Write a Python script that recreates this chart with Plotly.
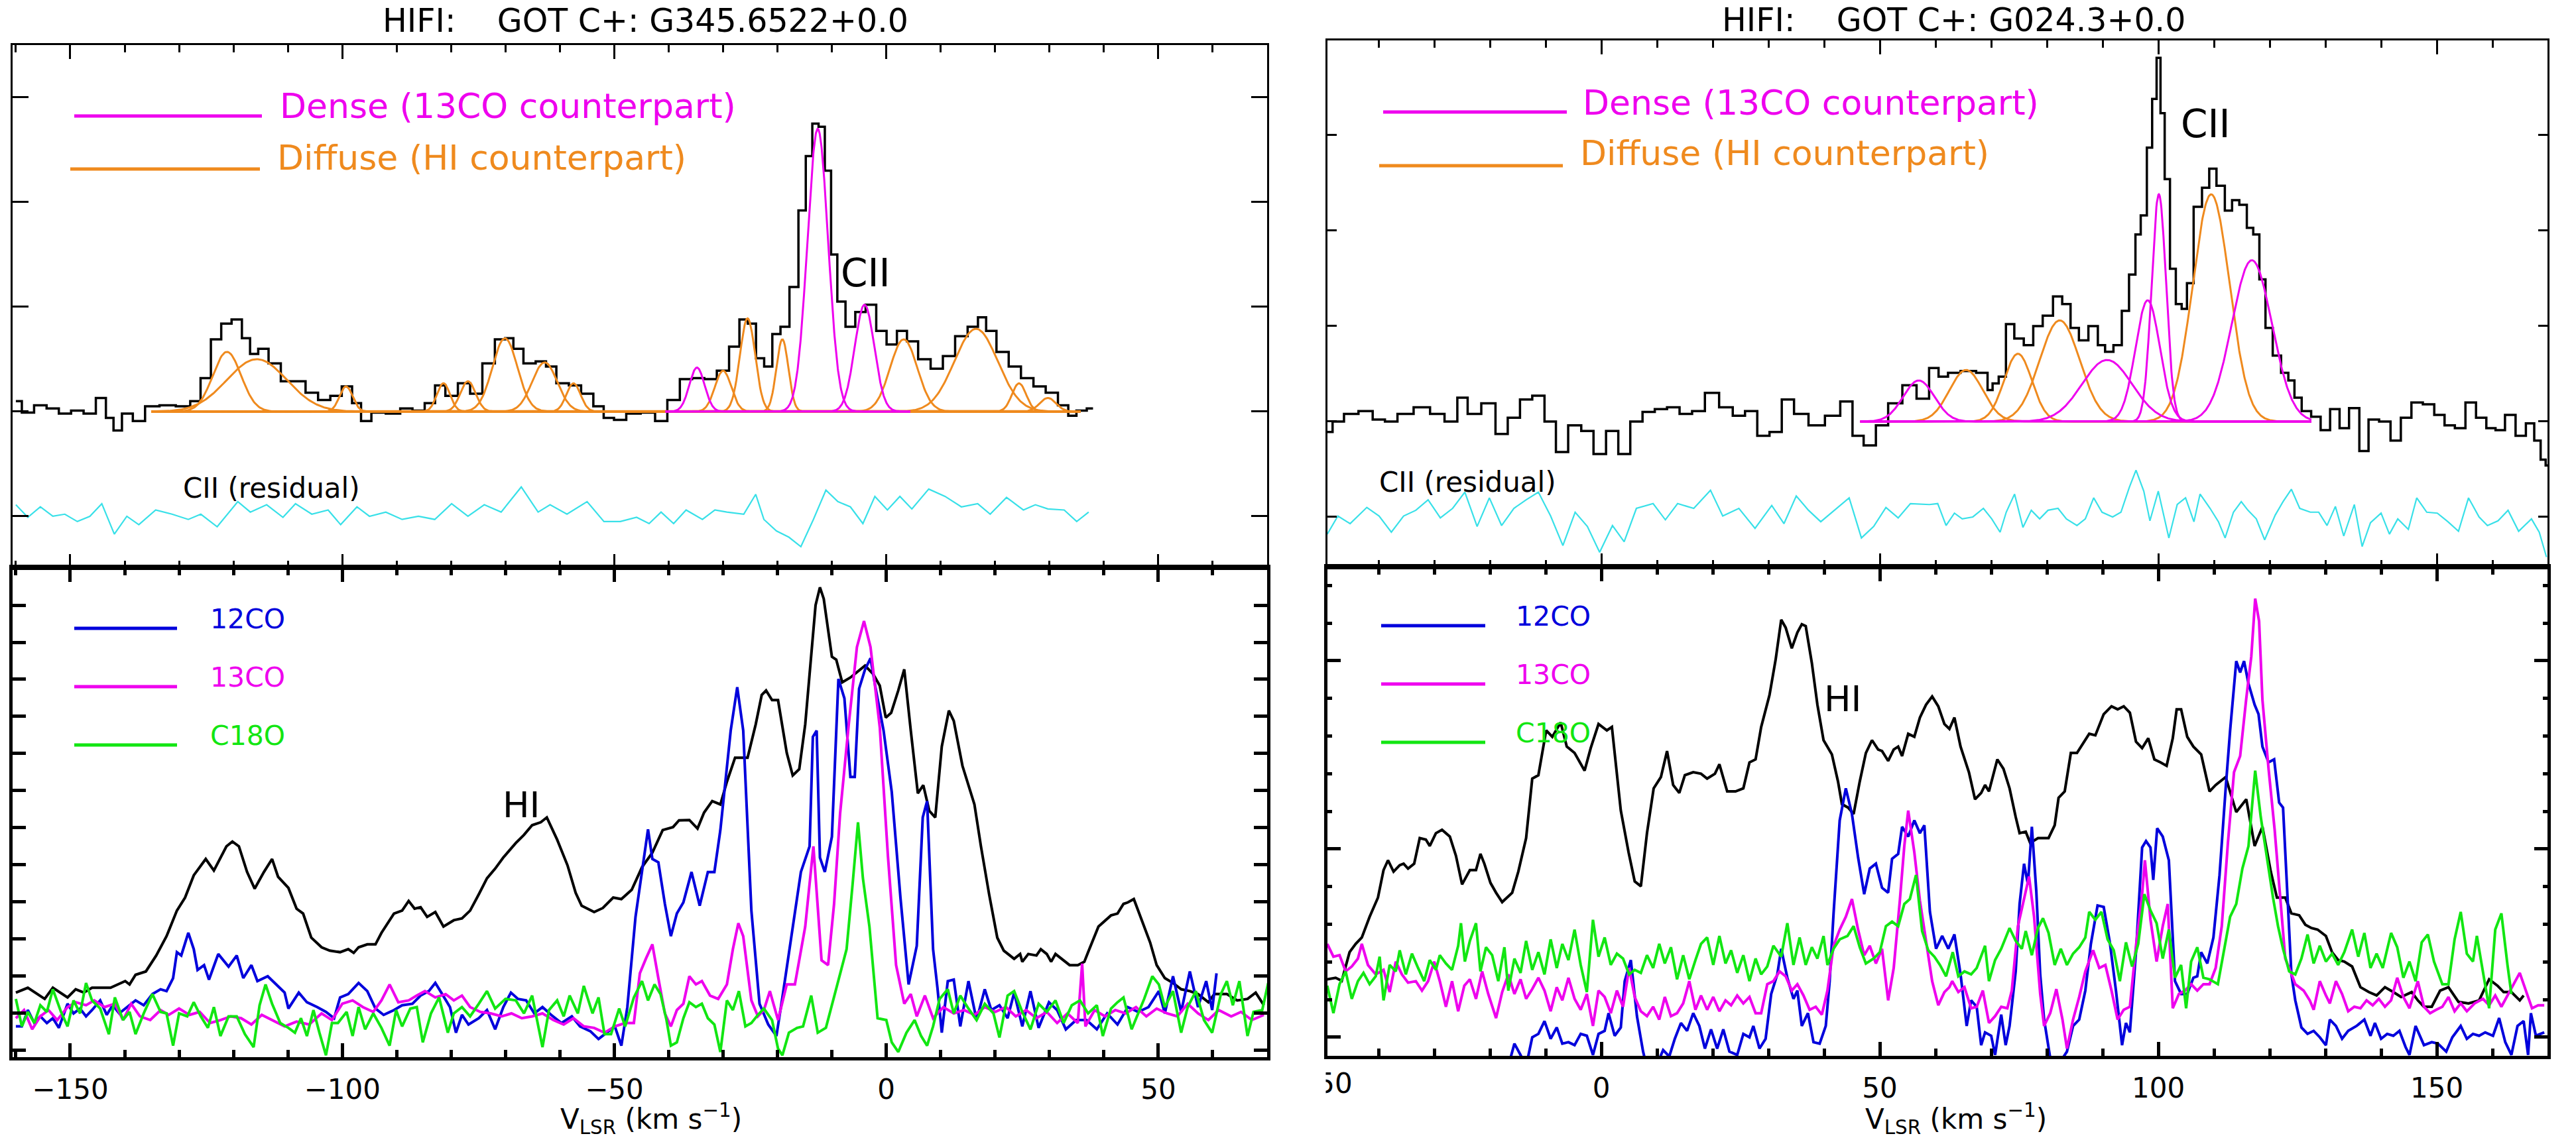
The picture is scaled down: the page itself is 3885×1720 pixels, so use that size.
import numpy as np
import plotly.graph_objects as go

W, H = 3885, 1720
def px(x): return x / W
def py(y): return 1 - y / H

# ---------------- DATA (velocity km/s, intensity in tick units) ----------------
# Left column: G345.6522+0.0
CII_L = [(-160.0,0.10),(-157.8,-0.01),(-155.5,0.06),(-153.2,0.03),(-151.0,-0.02),(-148.7,0.01),(-146.4,-0.02),(-144.2,0.13),(-142.7,-0.06),(-141.4,-0.18),(-139.6,-0.02),(-137.4,-0.09),(-135.1,0.05),(-132.1,0.06),(-129.1,0.05),(-126.8,0.10),(-125.3,0.32),(-123.0,0.69),(-121.5,0.84),(-119.2,0.88),(-117.7,0.70),(-116.2,0.55),(-114.7,0.60),(-112.4,0.46),(-110.2,0.29),(-107.9,0.29),(-105.6,0.18),(-103.3,0.11),(-101.1,0.15),(-99.1,0.24),(-97.3,0.08),(-95.8,-0.09),(-93.5,-0.01),(-90.5,-0.02),(-88.2,0.03),(-86.0,0.01),(-83.7,0.08),(-82.2,0.25),(-79.9,0.15),(-77.6,0.27),(-75.4,0.17),(-73.1,0.46),(-70.8,0.69),(-69.3,0.70),(-67.8,0.60),(-65.6,0.46),(-63.3,0.48),(-61.8,0.43),(-59.5,0.27),(-57.2,0.25),(-55.0,0.17),(-52.7,0.05),(-51.2,-0.06),(-48.9,-0.08),(-46.7,-0.02),(-43.6,-0.01),(-41.4,-0.09),(-39.1,0.11),(-36.8,0.31),(-34.6,0.32),(-32.3,0.31),(-30.0,0.39),(-27.8,0.62),(-26.2,0.88),(-24.7,0.84),(-23.2,0.51),(-21.7,0.43),(-20.2,0.74),(-18.7,0.81),(-16.9,1.19),(-15.4,1.92),(-14.2,2.44),(-13.0,2.75),(-11.9,2.72),(-10.7,2.30),(-9.6,1.50),(-8.4,1.05),(-6.6,0.81),(-4.8,0.95),(-2.8,1.02),(-0.9,0.77),(1.0,0.64),(2.9,0.77),(4.7,0.67),(7.0,0.50),(9.3,0.41),(11.5,0.53),(13.8,0.72),(16.1,0.81),(17.6,0.90),(19.1,0.77),(21.4,0.57),(23.6,0.43),(25.9,0.32),(28.2,0.24),(30.4,0.18),(32.7,0.06),(34.2,-0.04),(35.7,0.01),(38.0,0.03)]

RES_L = [(-160.0,-0.89),(-157.8,-1.01),(-155.5,-0.91),(-153.2,-1.00),(-151.0,-0.98),(-148.7,-1.05),(-146.4,-1.00),(-144.2,-0.88),(-141.9,-1.17),(-139.6,-1.00),(-137.4,-1.08),(-134.3,-0.94),(-131.3,-0.98),(-128.3,-1.03),(-126.0,-0.98),(-123.0,-1.10),(-119.2,-0.86),(-116.9,-0.96),(-113.9,-0.89),(-110.9,-1.01),(-108.6,-0.88),(-105.6,-0.98),(-102.6,-0.94),(-100.3,-1.08),(-97.3,-0.91),(-95.0,-1.00),(-92.0,-0.96),(-89.0,-1.03),(-86.0,-1.00),(-83.0,-1.03),(-79.9,-0.88),(-76.9,-1.00),(-73.9,-0.89),(-70.8,-0.96),(-67.1,-0.72),(-64.0,-0.96),(-61.8,-0.89),(-58.7,-0.98),(-55.0,-0.86),(-51.9,-1.05),(-48.9,-1.05),(-45.9,-1.01),(-43.6,-1.07),(-41.4,-0.96),(-39.1,-1.07),(-36.8,-0.94),(-33.8,-1.03),(-31.5,-0.94),(-29.3,-0.96),(-26.2,-0.98),(-24.0,-0.79),(-22.5,-1.03),(-20.2,-1.14),(-17.9,-1.20),(-15.7,-1.29),(-13.4,-1.03),(-11.1,-0.75),(-8.9,-0.86),(-6.6,-0.91),(-4.3,-1.07),(-2.1,-0.81),(0.2,-0.94),(2.5,-0.81),(4.7,-0.93),(7.8,-0.74),(10.8,-0.81),(13.8,-0.91),(16.8,-0.88),(19.1,-0.98),(22.1,-0.82),(25.2,-0.94),(27.4,-0.89),(29.7,-0.93),(32.7,-0.94),(35.0,-1.05),(37.2,-0.96)]

# Gaussian fit components: (centre, peak, sigma)
DIFFUSE_L = [(-121.2,0.57,2.6),(-115.7,0.50,5.5),(-99.3,0.24,1.2),(-81.4,0.27,1.2),(-76.9,0.29,1.4),(-70.1,0.70,2.3),(-62.8,0.47,2.3),(-57.5,0.27,1.3),(-30.0,0.39,1.5),(-25.5,0.89,1.4),(-19.1,0.69,1.1),(3.2,0.69,2.5),(16.5,0.79,4.0),(24.4,0.27,1.3),(29.7,0.13,1.5)]
DENSE_L = [(-34.8,0.42,1.4),(-12.6,2.70,1.9),(-4.0,1.02,1.8)]
DIFFUSE_L_RANGE = (-135.1, 35.7)
DENSE_L_RANGE = (-40.6, 4.4)

HI_L = [(-160.0,1.56),(-157.8,1.69),(-154.7,1.39),(-153.2,1.69),(-150.5,1.43),(-149.0,1.65),(-147.5,1.56),(-146.0,1.69),(-142.6,1.69),(-139.9,1.87),(-139.1,1.78),(-138.0,2.04),(-136.1,2.13),(-134.2,2.56),(-132.3,3.08),(-130.4,3.77),(-128.9,4.12),(-127.3,4.72),(-125.1,5.16),(-123.6,4.85),(-121.3,5.50),(-120.2,5.63),(-119.0,5.50),(-117.5,4.81),(-116.1,4.36),(-114.4,4.81),(-112.9,5.16),(-111.8,4.68),(-109.9,4.38),(-108.4,3.82),(-107.2,3.69),(-105.7,3.04),(-103.8,2.78),(-102.3,2.69),(-100.4,2.65),(-98.9,2.73),(-97.9,2.63),(-97.0,2.78),(-95.4,2.86),(-93.9,2.86),(-92.8,3.17),(-90.5,3.69),(-89.0,3.77),(-87.8,4.03),(-86.7,3.82),(-85.6,3.86),(-84.4,3.60),(-82.9,3.73),(-81.4,3.34),(-79.5,3.51),(-78.0,3.56),(-76.5,3.77),(-74.9,4.21),(-73.4,4.64),(-71.9,4.90),(-70.4,5.20),(-68.1,5.59),(-66.6,5.81),(-65.1,6.07),(-63.5,6.15),(-62.4,6.28),(-60.5,5.68),(-58.6,4.99),(-57.1,4.25),(-56.0,3.90),(-53.7,3.73),(-52.1,3.84),(-50.2,4.12),(-48.7,4.08),(-46.8,4.33),(-44.9,4.94),(-43.0,5.33),(-41.1,5.94),(-39.2,6.02),(-38.1,6.20),(-36.2,6.21),(-34.7,5.98),(-33.5,6.41),(-32.0,6.72),(-30.5,6.63),(-29.3,7.24),(-27.8,7.89),(-25.5,7.89),(-24.0,8.79),(-22.9,9.58),(-22.1,9.70),(-21.0,9.44),(-19.9,9.44),(-18.3,8.02),(-17.2,7.41),(-16.0,7.58),(-14.9,8.79),(-13.0,12.0),(-12.2,12.48),(-11.5,12.17),(-10.0,10.61),(-9.2,10.53),(-8.1,9.92),(-6.6,10.05),(-5.0,10.23),(-3.9,10.37),(-2.4,10.14),(-1.2,9.83),(-0.1,8.97),(0.9,9.10),(2.2,9.70),(3.3,10.27),(4.5,8.62),(5.8,6.93),(6.8,7.15),(7.9,6.46),(9.0,6.28),(10.2,8.19),(11.5,9.16),(12.4,8.88),(14.0,7.67),(15.1,7.15),(16.2,6.63),(17.4,5.50),(18.9,4.21),(20.4,3.04),(21.6,2.69),(23.5,2.47),(24.6,2.60),(25.0,2.39),(26.1,2.60),(27.6,2.56),(28.4,2.73),(29.5,2.60),(30.3,2.39),(31.1,2.60),(32.2,2.47),(33.7,2.30),(35.2,2.30),(36.4,2.39),(37.1,2.65),(39.0,3.34),(41.3,3.64),(42.5,3.69),(43.6,3.95),(44.4,3.99),(45.5,4.08),(47.0,3.51),(48.5,2.91),(49.7,2.30),(51.2,1.95),(52.7,1.82),(54.2,1.65),(55.8,1.60),(57.3,1.52),(59.2,1.30),(60.3,1.52),(62.6,1.52),(64.5,1.35),(66.4,1.39),(67.9,1.56),(69.4,1.22)]

CO12_L = [(-160.0,0.65),(-158.9,0.65),(-157.8,1.09),(-156.6,0.74),(-155.5,0.92),(-154.3,0.74),(-153.2,0.87),(-152.1,0.61),(-150.5,1.26),(-149.4,1.00),(-148.2,1.13),(-147.1,0.92),(-146.0,1.09),(-144.5,1.35),(-143.3,0.96),(-142.2,1.22),(-141.0,1.00),(-139.5,1.17),(-138.0,1.35),(-136.5,1.22),(-134.9,1.52),(-133.4,1.65),(-132.3,1.60),(-131.1,1.95),(-130.4,2.65),(-129.6,2.56),(-128.3,3.17),(-127.3,2.73),(-126.6,2.17),(-125.4,2.30),(-124.5,1.91),(-122.8,2.60),(-120.9,2.26),(-119.4,2.56),(-118.2,1.95),(-116.7,2.30),(-115.6,1.87),(-113.7,2.00),(-112.2,1.78),(-110.6,1.56),(-109.9,1.13),(-108.0,1.56),(-106.5,1.30),(-104.6,1.17),(-103.0,1.04),(-101.5,0.87),(-100.4,1.43),(-98.9,1.52),(-97.0,1.82),(-95.4,1.60),(-93.9,1.13),(-92.4,0.96),(-90.5,1.09),(-89.0,1.22),(-87.1,1.26),(-85.6,1.48),(-84.1,1.60),(-82.9,1.82),(-81.8,1.56),(-80.2,1.17),(-79.1,0.48),(-78.0,0.96),(-76.8,0.70),(-74.9,0.87),(-73.4,1.09),(-71.9,0.57),(-70.4,1.17),(-69.0,1.56),(-67.7,1.39),(-66.2,1.35),(-64.7,1.00),(-63.2,1.17),(-61.6,0.96),(-59.7,0.74),(-57.8,0.92),(-56.3,0.65),(-54.4,0.52),(-52.9,0.31),(-51.4,0.48),(-49.9,0.65),(-48.7,0.13),(-47.6,1.17),(-46.1,3.60),(-44.9,4.90),(-43.8,5.96),(-43.0,5.16),(-41.9,5.07),(-40.7,3.95),(-39.6,3.08),(-38.5,3.69),(-37.3,3.99),(-35.8,4.81),(-34.3,3.90),(-32.8,4.81),(-31.6,4.81),(-30.5,5.94),(-28.6,8.62),(-27.4,9.79),(-26.3,8.62),(-24.8,3.77),(-23.3,1.26),(-21.7,0.70),(-20.2,0.39),(-19.1,1.43),(-17.6,2.91),(-15.7,4.81),(-14.1,5.50),(-13.5,8.45),(-12.8,8.62),(-12.2,5.20),(-11.3,4.81),(-10.0,5.76),(-8.8,10.01),(-7.7,9.49),(-6.6,7.37),(-5.8,7.37),(-5.0,9.75),(-3.9,10.27),(-2.9,10.57),(-2.0,9.79),(-0.5,8.62),(1.0,6.97),(2.6,4.12),(4.1,1.78),(5.6,2.82),(6.7,6.28),(7.5,6.72),(8.6,2.73),(9.4,1.69),(10.2,0.48),(11.3,1.87),(12.4,1.91),(13.6,0.65),(15.1,1.87),(16.6,0.82),(18.1,1.65),(19.3,1.09),(20.8,1.22),(22.3,0.87),(23.5,1.56),(25.0,0.65),(26.5,1.60),(28.0,0.61),(29.9,1.30),(31.4,1.09),(33.0,0.57),(34.9,0.82),(36.8,0.82),(38.7,0.57),(40.6,1.00),(42.5,0.70),(44.4,1.17),(46.3,1.04),(48.2,1.17),(50.1,1.60),(51.2,1.00),(52.7,2.00),(54.2,1.04),(55.8,2.13),(57.3,1.17),(58.8,1.87),(59.9,1.09),(60.7,2.08)]

CO13_L = [(-160.0,0.87),(-158.5,1.09),(-157.0,0.57),(-155.5,0.92),(-154.0,1.09),(-152.4,0.82),(-150.5,1.17),(-149.0,1.30),(-147.1,1.22),(-145.6,1.35),(-143.7,1.17),(-141.8,1.26),(-140.3,0.82),(-138.8,1.26),(-137.2,0.92),(-135.3,0.82),(-133.4,1.09),(-131.9,0.96),(-130.0,1.13),(-128.1,0.96),(-126.2,1.04),(-124.3,0.74),(-122.4,0.82),(-120.5,0.92),(-118.6,0.87),(-116.7,0.70),(-114.8,0.96),(-112.9,0.82),(-110.6,0.65),(-108.4,0.78),(-106.1,0.70),(-103.8,1.00),(-101.9,0.82),(-100.0,1.26),(-98.1,1.35),(-96.2,1.17),(-94.3,1.04),(-92.8,1.35),(-91.3,1.78),(-89.7,1.30),(-87.8,1.35),(-86.3,1.48),(-84.8,1.60),(-82.9,1.43),(-81.0,1.52),(-79.5,1.35),(-78.0,1.48),(-76.5,1.17),(-74.6,1.04),(-72.7,1.00),(-70.7,0.92),(-68.9,1.00),(-67.0,0.87),(-65.1,0.92),(-63.2,1.00),(-61.2,0.82),(-59.3,0.70),(-57.5,0.87),(-55.6,0.65),(-53.7,0.61),(-51.8,0.48),(-49.9,0.65),(-48.0,0.74),(-46.4,0.74),(-45.3,2.08),(-44.2,2.47),(-43.0,2.86),(-41.9,1.95),(-40.7,1.00),(-39.6,0.65),(-38.5,1.09),(-37.3,1.26),(-36.2,2.00),(-35.0,1.78),(-33.9,1.87),(-32.4,1.48),(-30.9,1.39),(-29.3,1.78),(-28.2,2.73),(-27.2,3.43),(-26.3,3.08),(-24.8,1.35),(-23.6,0.92),(-22.5,1.09),(-21.4,1.60),(-19.9,0.82),(-18.3,1.78),(-16.8,1.78),(-14.9,3.34),(-13.4,5.50),(-11.9,2.43),(-10.7,2.30),(-9.6,3.95),(-8.5,6.37),(-6.9,8.79),(-5.4,10.87),(-4.1,11.57),(-2.9,10.87),(-1.2,8.71),(0.3,5.24),(1.8,2.30),(3.3,1.26),(4.5,1.52),(5.6,0.92),(7.1,1.48),(8.6,0.87),(10.5,1.17),(12.4,1.00),(14.3,1.09),(16.2,0.96),(18.1,1.17),(20.0,1.04),(22.0,1.17),(23.8,0.92),(25.7,1.09),(27.6,0.87),(29.5,1.04),(31.4,0.74),(33.3,1.00),(35.2,0.74),(36.0,2.34),(36.6,0.65),(38.3,1.09),(40.2,0.92),(42.1,1.09),(44.0,1.00),(45.9,1.17),(47.8,0.92),(49.7,1.13),(51.6,1.00),(53.5,0.92),(55.4,1.26),(57.3,1.00),(59.2,0.82),(61.1,1.09),(63.4,0.92),(65.2,1.04),(67.2,0.82),(69.4,0.96)]

C18O_L = [(-160.0,1.39),(-158.9,0.65),(-157.8,1.04),(-156.6,0.74),(-155.5,1.22),(-154.3,1.04),(-153.2,1.65),(-151.7,1.04),(-150.5,0.65),(-149.4,1.35),(-148.2,1.00),(-147.1,1.82),(-146.0,1.35),(-144.5,1.13),(-142.9,0.44),(-141.8,1.43),(-140.3,0.82),(-139.1,1.04),(-138.0,0.44),(-136.5,1.00),(-134.9,1.52),(-133.4,1.04),(-132.3,1.00),(-131.1,0.13),(-130.0,1.00),(-128.5,0.92),(-127.3,1.30),(-126.0,0.92),(-124.7,0.61),(-123.6,1.17),(-122.4,0.39),(-120.9,0.92),(-119.4,0.92),(-117.9,0.44),(-116.3,0.09),(-115.2,1.22),(-114.1,1.78),(-112.9,1.26),(-111.4,0.74),(-109.9,0.61),(-108.7,0.48),(-107.6,0.87),(-106.5,0.39),(-105.3,1.09),(-104.2,0.48),(-103.0,-0.13),(-101.9,0.74),(-100.8,0.74),(-99.2,1.04),(-98.1,0.39),(-97.0,1.17),(-95.8,0.57),(-94.3,1.00),(-92.8,0.61),(-91.3,0.13),(-90.1,1.09),(-89.0,0.65),(-87.5,1.13),(-86.3,1.17),(-85.2,0.22),(-83.7,1.00),(-82.2,1.43),(-80.6,0.48),(-79.5,1.00),(-78.0,1.17),(-76.5,0.92),(-74.9,1.26),(-73.4,1.60),(-71.9,1.13),(-70.0,1.39),(-68.1,1.35),(-66.6,1.00),(-65.1,1.48),(-63.2,0.09),(-62.0,1.09),(-60.5,1.35),(-59.3,0.92),(-58.2,1.48),(-56.7,1.00),(-55.6,1.74),(-54.0,1.00),(-52.9,1.43),(-51.8,0.44),(-50.6,0.44),(-49.1,1.13),(-48.0,0.65),(-46.4,1.43),(-44.9,1.87),(-43.8,1.35),(-42.6,1.78),(-41.5,1.52),(-40.4,0.82),(-39.6,0.13),(-38.5,0.22),(-37.3,0.87),(-36.2,1.30),(-35.0,1.17),(-33.9,1.26),(-32.8,0.87),(-31.6,0.70),(-30.5,-0.04),(-29.3,1.35),(-28.2,1.09),(-27.1,1.60),(-25.9,0.65),(-24.8,0.74),(-23.6,0.96),(-22.5,1.13),(-21.0,0.82),(-19.9,0.05),(-19.1,-0.13),(-17.9,0.48),(-16.4,0.61),(-15.3,0.65),(-13.8,1.48),(-12.6,0.48),(-11.1,0.61),(-9.6,1.43),(-8.5,2.04),(-7.3,2.73),(-6.2,4.47),(-5.2,6.15),(-4.3,4.64),(-3.1,3.34),(-1.6,0.87),(0.0,0.82),(1.0,0.22),(2.2,-0.04),(3.7,0.48),(5.2,0.82),(6.4,0.39),(7.5,0.13),(8.6,0.65),(9.8,1.39),(11.3,1.65),(12.4,1.00),(13.6,1.48),(15.1,1.13),(16.6,0.82),(18.1,1.26),(19.7,1.00),(20.8,0.35),(22.3,1.48),(23.5,1.60),(25.0,1.04),(26.5,0.57),(28.0,1.26),(29.5,1.04),(31.1,1.35),(32.6,0.74),(34.1,1.22),(35.6,1.35),(37.1,1.00),(38.7,1.22),(39.8,0.39),(41.3,1.13),(42.5,1.30),(43.6,1.43),(45.1,0.57),(46.3,1.00),(47.4,1.39),(48.9,2.00),(50.1,1.78),(51.2,1.17),(52.7,1.60),(54.2,0.48),(55.4,1.17),(56.9,1.60),(58.4,0.82),(59.9,0.48),(61.5,1.52),(62.6,1.87),(63.7,1.22),(64.9,1.87),(66.4,0.39),(67.5,1.04),(69.1,1.09),(70.2,1.82)]

# Right column: G024.3+0.0
CII_R = [(-49.2,-0.11),(-47.3,0.0),(-45.1,0.08),(-42.1,0.11),(-40.0,0.02),(-37.7,0.0),(-35.5,0.08),(-31.9,0.15),(-29.6,0.08),(-26.7,0.0),(-25.0,0.25),(-23.0,0.08),(-20.1,0.19),(-17.9,-0.13),(-15.7,0.04),(-13.5,0.23),(-11.3,0.27),(-9.1,0.0),(-7.2,-0.32),(-4.7,-0.04),(-2.5,-0.10),(-0.3,-0.34),(2.0,-0.10),(4.1,-0.34),(6.3,0.0),(8.5,0.10),(10.7,0.13),(12.9,0.15),(15.2,0.08),(17.4,0.11),(19.8,0.30),(22.5,0.15),(24.7,0.06),(26.9,0.11),(29.1,-0.15),(31.3,-0.11),(33.5,0.23),(35.7,0.08),(38.7,-0.04),(41.6,0.06),(44.2,0.21),(46.0,-0.15),(48.2,-0.25),(50.4,-0.04),(52.6,0.19),(55.5,0.38),(57.7,0.24),(60.0,0.56),(61.1,0.47),(63.4,0.51),(65.6,0.53),(69.0,0.51),(69.7,0.33),(70.8,0.40),(71.9,0.47),(73.4,1.02),(74.9,0.87),(76.8,0.80),(78.3,1.00),(80.2,1.11),(82.0,1.31),(83.5,1.23),(85.0,0.98),(86.5,0.85),(88.4,1.00),(89.9,0.80),(91.0,0.73),(92.9,0.80),(94.0,1.16),(95.5,1.54),(96.3,1.96),(97.4,2.16),(98.5,2.87),(99.3,3.38),(100.1,3.81),(100.7,3.23),(101.6,2.54),(102.6,1.60),(103.7,1.23),(104.7,1.18),(105.6,1.45),(107.1,2.25),(108.6,2.45),(109.7,2.65),(111.2,2.47),(112.7,2.21),(113.8,2.32),(115.3,2.27),(116.5,2.03),(117.6,1.96),(118.7,1.49),(119.8,0.98),(121.3,0.69),(122.8,0.51),(123.9,0.43),(125.0,0.25),(126.5,0.11),(128.4,0.05),(129.9,-0.09),(131.8,0.13),(133.3,-0.07),(135.2,0.14),(137.0,-0.31),(138.5,0.02),(140.8,0.0),(142.6,-0.20),(144.5,0.04),(146.4,0.20),(148.6,0.18),(150.5,0.07),(152.3,-0.04),(154.2,-0.07),(156.1,0.20),(158.0,0.04),(159.8,-0.07),(161.3,-0.09),(163.2,0.07),(165.1,-0.15),(166.9,-0.02),(168.1,-0.20),(169.2,-0.40),(169.9,-0.46)]

RES_R = [(-49.2,-1.18),(-47.3,-0.99),(-45.1,-1.07),(-42.1,-0.90),(-39.9,-0.99),(-37.7,-1.16),(-35.5,-0.99),(-33.3,-0.93),(-31.1,-0.82),(-28.9,-1.01),(-26.7,-0.91),(-24.5,-0.74),(-22.3,-1.10),(-20.1,-0.80),(-17.9,-1.09),(-15.7,-0.91),(-13.5,-0.82),(-11.3,-0.74),(-9.1,-0.99),(-6.9,-1.30),(-4.7,-0.95),(-2.5,-1.10),(-0.3,-1.37),(2.0,-1.09),(4.1,-1.26),(6.3,-0.91),(9.3,-0.86),(11.5,-1.03),(13.7,-0.86),(16.6,-0.91),(19.6,-0.72),(21.8,-0.99),(24.7,-0.91),(27.6,-1.12),(30.6,-0.88),(32.8,-1.07),(35.0,-0.78),(37.2,-0.93),(39.4,-1.05),(42.3,-0.91),(44.5,-0.80),(46.7,-1.22),(48.9,-1.10),(51.1,-0.90),(53.3,-1.01),(55.5,-0.86),(58.9,-0.87),(60.4,-0.86),(61.9,-1.09),(63.4,-0.96),(64.8,-1.02),(66.7,-1.00),(68.6,-0.91),(70.1,-1.02),(71.6,-1.16),(72.7,-0.95),(74.2,-0.76),(75.7,-1.11),(77.2,-0.93),(78.7,-1.02),(80.2,-0.93),(82.0,-0.91),(83.5,-1.02),(85.4,-1.09),(86.9,-1.02),(88.4,-0.80),(89.9,-0.95),(91.8,-1.00),(93.3,-0.95),(94.8,-0.69),(96.0,-0.51),(97.4,-0.73),(98.5,-1.04),(100.0,-0.73),(101.9,-1.22),(103.4,-0.87),(104.9,-0.80),(106.4,-1.05),(107.5,-0.76),(109.3,-0.91),(110.8,-1.05),(112.0,-1.22),(113.5,-0.95),(114.9,-0.84),(116.1,-0.93),(117.6,-1.02),(119.1,-1.24),(121.0,-0.98),(122.4,-0.84),(123.9,-0.71),(125.4,-0.91),(127.3,-0.95),(128.8,-0.95),(130.3,-1.09),(131.8,-0.89),(133.3,-1.20),(135.2,-0.87),(136.6,-1.31),(138.1,-1.06),(140.0,-0.96),(141.5,-1.18),(143.0,-1.02),(144.9,-1.13),(146.4,-0.80),(148.2,-0.95),(150.1,-0.96),(152.0,-1.05),(153.9,-1.15),(155.7,-0.80),(157.6,-1.00),(159.1,-1.09),(161.0,-1.04),(162.8,-0.93),(164.7,-1.15),(167.0,-1.02),(168.4,-1.16),(169.7,-1.42)]

DIFFUSE_R = [(65.5,0.54,3.0),(74.8,0.71,2.5),(82.3,1.06,3.6),(109.5,2.38,3.3)]
DENSE_R = [(57.0,0.43,2.8),(90.8,0.645,4.5),(98.1,1.27,2.2),(100.1,2.38,1.3),(116.8,1.69,3.6)]
FIT_R_RANGE = (46.5, 127.5)

HI_R = [(-49.2,1.54),(-47.7,1.58),(-46.6,1.50),(-45.2,2.26),(-44.1,2.48),(-43.0,2.65),(-41.6,3.20),(-40.1,3.71),(-39.1,4.44),(-38.3,4.70),(-37.3,4.40),(-36.2,4.57),(-35.5,4.61),(-34.7,4.48),(-33.6,4.61),(-32.6,5.29),(-31.5,5.25),(-30.8,5.08),(-29.7,5.42),(-28.6,5.51),(-27.2,5.33),(-26.1,4.82),(-25.0,4.06),(-23.6,4.44),(-22.5,4.44),(-21.7,4.87),(-21.0,4.61),(-19.9,4.10),(-18.9,3.84),(-17.8,3.59),(-16.0,3.84),(-14.9,4.40),(-13.5,5.29),(-12.4,6.87),(-11.3,6.96),(-9.9,8.15),(-8.8,7.98),(-7.3,8.36),(-6.2,7.72),(-4.8,7.55),(-3.0,7.08),(-1.9,7.68),(-0.5,8.32),(1.0,8.15),(1.9,8.24),(3.5,6.02),(4.9,4.91),(6.0,4.14),(7.1,4.01),(8.2,5.42),(9.4,6.61),(10.7,6.91),(11.8,7.60),(12.9,6.70),(14.0,6.49),(15.0,6.96),(16.5,7.04),(17.9,7.00),(19.0,6.87),(20.4,7.00),(21.2,7.25),(22.6,6.53),(24.1,6.53),(25.5,6.61),(26.6,7.30),(27.7,7.38),(28.7,8.24),(30.2,9.09),(31.3,10.03),(32.3,11.09),(33.1,10.88),(34.2,10.33),(35.2,10.75),(36.0,10.97),(36.7,10.92),(37.8,9.94),(38.8,8.83),(39.9,7.89),(41.4,7.51),(42.5,6.79),(43.2,6.19),(44.3,6.10),(45.3,5.93),(46.4,6.79),(47.5,7.55),(48.6,7.89),(49.7,7.64),(50.4,7.60),(51.5,7.34),(52.5,7.64),(53.3,7.72),(54.0,7.47),(55.1,8.06),(56.2,7.98),(57.2,8.49),(58.3,8.83),(59.4,9.05),(60.5,8.79),(61.6,8.32),(62.5,8.19),(63.4,8.49),(64.5,7.72),(66.0,7.04),(67.1,6.32),(68.2,6.49),(68.9,6.70),(69.6,6.53),(71.1,7.38),(72.2,7.13),(73.3,6.61),(74.4,5.85),(75.1,5.42),(76.2,5.46),(77.0,5.16),(78.4,5.29),(80.3,5.29),(81.4,5.63),(82.1,6.36),(83.2,6.53),(84.3,7.55),(85.4,7.55),(86.5,7.81),(87.6,8.06),(88.7,8.02),(90.2,8.58),(91.6,8.79),(92.7,8.71),(93.8,8.79),(94.9,8.62),(96.0,7.85),(97.1,7.68),(98.2,7.94),(99.3,7.38),(100.4,7.30),(101.5,7.21),(102.6,7.94),(103.3,8.71),(104.1,8.71),(105.2,7.98),(106.3,7.72),(107.7,7.51),(109.2,6.53),(110.3,6.70),(112.1,6.91),(114.0,5.98),(115.8,6.32),(117.3,5.08),(118.7,5.59),(120.2,4.40),(121.3,3.71),(122.8,3.71),(123.9,3.29),(125.3,3.24),(126.4,2.99),(127.5,2.90),(128.6,2.86),(130.1,2.69),(131.2,2.26),(132.3,2.05),(133.4,2.01),(134.8,1.88),(136.3,1.33),(137.8,1.20),(139.2,1.11),(140.7,1.33),(142.2,1.20),(143.6,1.07),(145.5,1.20),(146.6,0.98),(147.7,0.81),(149.1,0.81),(150.6,1.24),(152.1,1.33),(153.9,0.94),(155.7,0.90),(157.6,0.98),(159.4,1.54),(160.9,1.37),(162.0,1.20),(163.4,1.20),(164.9,0.98),(165.6,1.11)]

CO12_R = [(-16.3,-0.55),(-15.6,-0.17),(-14.5,-0.47),(-13.5,-0.77),(-12.4,0.00),(-11.3,0.09),(-10.2,0.43),(-9.1,-0.04),(-8.0,0.26),(-7.0,-0.17),(-5.9,-0.13),(-4.8,-0.21),(-3.7,0.09),(-2.6,0.04),(-1.5,-0.47),(-0.5,0.09),(0.6,0.17),(1.3,0.64),(2.4,0.04),(3.5,0.26),(4.2,1.49),(5.3,2.05),(6.4,0.56),(7.5,-0.38),(8.5,-0.98),(10.0,-0.72),(11.1,-0.34),(12.2,-0.51),(13.2,-0.04),(14.3,0.38),(15.4,0.17),(16.5,0.64),(17.6,0.30),(18.6,-0.30),(19.7,0.21),(20.8,-0.30),(21.9,0.21),(23.0,-0.38),(24.4,-0.47),(25.5,0.09),(26.6,0.00),(27.3,0.30),(28.4,-0.30),(29.5,-0.04),(30.5,1.15),(31.6,1.67),(32.3,2.35),(33.4,1.58),(34.5,1.02),(35.2,1.24),(36.0,0.30),(37.1,0.64),(38.1,-0.13),(39.2,-0.17),(40.3,0.30),(41.0,1.49),(41.7,3.29),(42.8,5.76),(43.9,6.61),(45.0,5.93),(46.1,4.78),(47.2,3.80),(48.2,4.48),(49.3,4.61),(50.4,3.97),(51.5,3.84),(52.2,4.74),(53.3,4.87),(54.0,5.59),(55.1,5.33),(56.2,5.76),(57.2,5.42),(58.0,5.63),(59.0,3.33),(60.1,2.35),(61.2,2.69),(62.3,2.35),(63.4,2.73),(64.5,1.67),(65.6,0.30),(66.4,0.98),(67.4,0.81),(68.2,-0.21),(68.9,0.13),(70.0,0.04),(70.7,-0.47),(71.8,0.60),(72.6,-0.21),(73.3,0.30),(74.4,1.75),(75.1,3.54),(75.9,4.61),(76.6,4.06),(77.3,5.59),(78.1,3.88),(78.8,1.67),(79.5,0.47),(80.6,-0.55),(82.1,-0.72),(83.6,-0.38),(84.7,0.30),(85.8,0.47),(86.9,1.24),(87.9,2.48),(89.1,3.50),(90.2,3.46),(91.3,2.52),(92.4,1.24),(93.5,-0.21),(94.2,0.38),(94.9,0.13),(96.0,2.26),(97.1,5.04),(97.8,5.21),(98.6,5.04),(99.1,4.18),(99.8,5.55),(100.8,5.33),(101.9,4.70),(103.0,1.49),(104.1,1.15),(105.2,1.15),(106.3,1.58),(107.0,1.62),(107.7,2.26),(108.8,1.96),(109.9,2.65),(111.0,4.31),(112.1,6.61),(112.9,8.15),(114.0,9.99),(114.7,9.69),(115.4,9.99),(116.2,9.39),(117.3,8.83),(118.0,8.58),(118.7,7.72),(119.8,7.30),(120.8,7.38),(121.7,6.23),(122.4,6.10),(123.1,4.06),(123.9,1.67),(124.6,0.98),(125.7,0.26),(126.8,0.09),(127.9,0.17),(129.0,0.00),(130.1,-0.21),(130.8,0.47),(131.9,0.30),(133.0,-0.04),(134.1,0.17),(135.6,0.30),(137.0,0.47),(138.1,0.04),(138.9,0.38),(140.0,-0.04),(141.1,0.09),(142.2,0.04),(143.3,0.17),(144.4,-0.26),(145.1,-0.47),(146.2,0.30),(147.7,-0.21),(149.1,-0.13),(150.2,-0.17),(151.7,-0.38),(152.8,0.00),(154.3,0.30),(155.4,-0.04),(156.5,0.09),(157.6,0.04),(158.7,0.13),(160.1,0.04),(161.2,0.51),(162.3,-0.13),(163.4,-0.47),(164.5,0.30),(165.6,0.43),(166.4,-0.47),(166.9,0.64),(167.8,0.04),(169.3,0.13)]

CO13_R = [(-49.2,2.48),(-48.1,2.14),(-47.0,2.18),(-45.9,1.75),(-44.8,1.88),(-43.7,2.09),(-43.0,2.48),(-41.9,1.92),(-40.5,1.67),(-39.1,1.79),(-38.0,1.20),(-36.9,2.01),(-35.8,1.67),(-34.7,1.45),(-33.3,1.49),(-32.2,1.24),(-31.1,1.49),(-30.0,2.01),(-29.0,1.49),(-27.9,0.81),(-26.8,1.49),(-25.7,0.69),(-24.6,1.37),(-23.6,1.54),(-22.5,1.02),(-21.4,1.75),(-20.3,1.15),(-18.9,0.51),(-17.8,1.20),(-16.7,1.67),(-15.6,1.15),(-14.5,1.54),(-13.5,1.02),(-12.4,1.28),(-11.3,1.58),(-10.2,1.24),(-9.1,0.69),(-8.0,1.33),(-7.0,0.98),(-5.9,1.58),(-4.8,1.02),(-3.7,0.73),(-2.6,1.15),(-1.5,0.30),(-0.5,1.24),(0.6,1.07),(1.7,0.64),(2.8,1.24),(3.9,0.81),(5.0,1.84),(6.0,1.07),(7.1,0.69),(8.2,0.56),(9.3,0.81),(10.4,0.47),(11.4,1.07),(12.5,0.56),(13.6,0.64),(14.7,0.90),(15.8,1.49),(16.9,0.73),(17.9,1.11),(19.0,0.73),(20.1,1.07),(21.2,0.69),(22.3,0.98),(23.3,0.85),(24.4,1.11),(25.5,0.90),(26.6,1.07),(27.7,0.64),(28.7,0.64),(29.8,1.41),(30.9,1.49),(32.0,1.75),(33.1,1.62),(34.2,1.24),(35.2,1.41),(36.3,1.11),(37.4,0.73),(38.5,0.81),(39.6,0.60),(40.6,1.24),(41.7,2.43),(42.8,2.86),(43.9,3.20),(45.0,3.67),(46.1,2.86),(47.2,2.18),(48.2,2.43),(49.3,1.96),(50.4,2.35),(51.5,0.98),(52.5,1.84),(53.6,3.63),(54.4,5.08),(55.1,6.02),(56.2,4.91),(57.2,3.63),(58.3,2.52),(59.4,1.49),(60.5,0.85),(61.6,1.20),(62.5,1.33),(63.0,1.49),(64.1,1.20),(65.2,1.33),(66.4,0.77),(67.4,0.81),(68.5,1.24),(69.6,0.38),(70.7,0.56),(71.8,0.81),(72.9,0.77),(73.7,1.24),(74.8,2.95),(75.9,3.71),(76.8,4.27),(77.7,3.20),(78.8,1.15),(79.5,0.30),(80.6,0.64),(81.7,1.28),(82.8,0.47),(83.6,-0.30),(84.7,0.47),(85.8,1.07),(86.9,1.75),(88.3,2.31),(89.4,1.84),(90.5,1.92),(91.6,1.24),(92.7,0.47),(93.8,0.73),(94.9,0.81),(96.0,2.43),(97.1,3.80),(97.6,4.70),(98.6,3.12),(99.7,2.01),(100.8,2.95),(101.7,3.54),(102.6,0.77),(103.7,1.15),(104.8,1.24),(105.9,1.41),(107.0,1.24),(108.1,1.41),(109.2,1.41),(110.3,1.84),(111.4,2.95),(112.5,5.16),(113.6,7.04),(114.7,7.47),(115.8,9.00),(116.7,10.11),(117.4,11.65),(118.1,11.05),(118.7,8.96),(119.8,7.13),(120.9,5.50),(122.0,3.54),(122.8,2.09),(123.5,1.84),(124.6,1.41),(126.1,1.24),(127.2,0.98),(127.9,0.73),(129.0,1.49),(130.1,1.11),(130.8,0.90),(131.9,1.49),(133.0,1.15),(134.1,0.69),(135.2,0.81),(136.3,0.77),(137.4,0.98),(138.5,0.85),(139.6,1.02),(140.7,0.81),(141.8,0.98),(142.9,1.58),(144.0,1.07),(145.1,0.77),(146.6,1.49),(147.7,0.81),(148.8,0.64),(149.9,0.73),(151.0,0.81),(152.1,1.07),(153.2,0.69),(154.3,0.90),(155.4,0.69),(156.8,0.90),(158.3,1.02),(159.4,0.85),(160.5,1.11),(161.6,0.81),(162.7,1.11),(163.8,1.41),(164.9,1.71),(166.0,1.24),(167.1,0.77),(168.2,0.85),(169.3,0.85)]

C18O_R = [(-49.2,1.37),(-48.1,0.64),(-47.0,1.41),(-45.9,1.75),(-44.8,1.02),(-43.7,1.49),(-42.7,1.71),(-41.6,1.41),(-40.5,1.62),(-39.8,2.14),(-39.1,0.98),(-38.0,1.92),(-36.9,1.75),(-36.2,2.31),(-35.1,1.67),(-34.0,2.22),(-32.9,1.84),(-31.8,1.49),(-30.8,2.05),(-29.7,1.79),(-29.0,2.18),(-27.9,1.96),(-26.8,1.79),(-25.7,2.43),(-25.2,3.03),(-24.5,2.01),(-23.6,2.56),(-22.5,3.03),(-21.7,1.75),(-20.7,2.39),(-19.6,2.18),(-18.5,1.49),(-17.4,2.39),(-16.7,1.24),(-15.6,2.09),(-14.5,1.71),(-13.5,2.56),(-12.4,1.79),(-11.3,2.26),(-10.2,1.67),(-9.1,2.60),(-8.0,1.84),(-7.0,2.48),(-5.9,2.05),(-4.8,2.86),(-3.7,1.92),(-2.6,1.20),(-1.5,3.12),(-0.5,2.14),(0.6,2.65),(1.7,1.92),(2.8,2.22),(3.9,2.09),(5.0,1.67),(6.0,1.79),(7.1,1.71),(8.2,2.18),(9.3,1.84),(10.4,2.48),(11.4,1.96),(12.5,2.39),(13.6,1.54),(14.7,2.18),(15.8,1.54),(16.9,2.05),(17.9,2.48),(19.0,2.65),(20.1,1.92),(21.2,2.69),(22.3,1.96),(23.3,2.31),(24.4,1.71),(25.5,2.18),(26.6,1.49),(27.7,2.09),(28.7,1.67),(29.8,1.88),(30.9,2.43),(32.3,2.14),(33.4,3.03),(34.5,1.92),(35.6,2.65),(36.7,1.92),(37.8,2.39),(38.8,2.09),(39.9,2.69),(40.6,1.92),(41.7,2.35),(42.8,2.60),(44.2,2.69),(45.3,2.95),(46.4,2.39),(47.5,1.96),(48.9,2.09),(50.0,2.26),(51.1,2.95),(52.2,3.07),(53.3,2.95),(54.4,3.54),(55.4,3.67),(56.5,4.31),(57.6,2.82),(58.7,2.31),(59.8,2.14),(60.8,1.92),(61.9,1.62),(63.1,2.26),(64.1,1.62),(65.2,1.75),(66.4,1.67),(67.4,1.84),(68.9,2.43),(69.6,1.49),(70.7,2.05),(71.8,2.35),(73.3,2.90),(74.4,2.56),(75.5,2.35),(76.2,2.82),(77.3,2.18),(78.4,2.90),(79.3,3.16),(80.3,2.77),(81.4,1.92),(82.5,2.35),(83.6,1.92),(84.7,2.22),(85.8,2.39),(86.9,2.65),(87.6,3.33),(88.7,3.12),(89.8,3.33),(90.9,2.60),(92.0,2.31),(93.1,1.49),(94.2,2.52),(95.3,1.88),(96.4,2.48),(97.5,3.80),(98.6,3.37),(99.7,3.03),(100.8,2.09),(101.9,2.86),(103.0,1.58),(104.1,1.92),(105.0,0.77),(105.9,2.01),(107.0,2.39),(108.1,1.58),(109.2,1.54),(110.7,1.41),(111.8,2.35),(112.9,3.20),(114.0,3.54),(115.1,4.48),(116.2,5.08),(117.4,7.08),(118.4,5.85),(119.5,4.74),(120.6,3.71),(121.5,2.95),(122.4,2.35),(123.5,1.75),(124.6,1.67),(125.7,2.09),(126.8,2.73),(127.9,1.96),(129.0,2.43),(130.1,2.01),(131.2,2.22),(132.3,1.92),(133.4,2.26),(134.8,2.86),(135.9,2.14),(137.0,2.77),(138.1,1.84),(139.2,2.22),(140.3,1.84),(141.8,2.77),(142.9,2.39),(144.0,1.58),(145.1,2.01),(146.2,1.49),(147.3,2.52),(148.4,2.73),(149.5,2.01),(151.0,1.41),(152.1,1.41),(153.2,2.60),(154.3,3.33),(155.4,2.22),(156.5,2.01),(157.2,2.69),(158.3,1.75),(159.4,0.77),(160.5,2.86),(161.6,3.29),(162.7,1.92),(163.4,1.15)]

TITLES = ["HIFI:&nbsp;&nbsp;&nbsp;&nbsp;GOT C+: G345.6522+0.0", "HIFI:&nbsp;&nbsp;&nbsp;&nbsp;GOT C+: G024.3+0.0"]

# ---------------- STYLE ----------------
BLACK = "#000000"; BLUE = "#0000dc"; MAG = "#ee00ee"; GREEN = "#12e612"
ORANGE = "#ef8a1e"; CYAN = "#38e0e8"
FONT = "DejaVu Sans"

fig = go.Figure()

def unzip(pts):
    return [p[0] for p in pts], [p[1] for p in pts]

def add(pts, xa, ya, color, width, shape="linear"):
    x, y = unzip(pts)
    fig.add_trace(go.Scatter(x=x, y=y, xaxis=xa, yaxis=ya, mode="lines",
                             line=dict(color=color, width=width, shape=shape),
                             showlegend=False, hoverinfo="skip"))

def add_gauss(comps, vrange, xa, ya, color, width):
    v = np.linspace(vrange[0], vrange[1], 900)
    for c, a, s in comps:
        fig.add_trace(go.Scatter(x=v, y=a * np.exp(-0.5 * ((v - c) / s) ** 2),
                                 xaxis=xa, yaxis=ya, mode="lines",
                                 line=dict(color=color, width=width),
                                 showlegend=False, hoverinfo="skip"))

# Left top
add(CII_L, "x", "y", BLACK, 3.5, "hvh")
add_gauss(DIFFUSE_L, DIFFUSE_L_RANGE, "x", "y", ORANGE, 3)
add_gauss(DENSE_L, DENSE_L_RANGE, "x", "y", MAG, 3)
add(RES_L, "x", "y", CYAN, 2.2)
# Left bottom
add(HI_L, "x2", "y2", BLACK, 4)
add(CO12_L, "x2", "y2", BLUE, 4)
add(CO13_L, "x2", "y2", MAG, 4)
add(C18O_L, "x2", "y2", GREEN, 4)
# Right top
add(CII_R, "x3", "y3", BLACK, 3.5, "hvh")
add_gauss(DIFFUSE_R, FIT_R_RANGE, "x3", "y3", ORANGE, 3)
add_gauss(DENSE_R, FIT_R_RANGE, "x3", "y3", MAG, 3)
add(RES_R, "x3", "y3", CYAN, 2.2)
# Right bottom
add(HI_R, "x4", "y4", BLACK, 4)
add(CO12_R, "x4", "y4", BLUE, 4)
add(CO13_R, "x4", "y4", MAG, 4)
add(C18O_R, "x4", "y4", GREEN, 4)

XL = [-160.6, 70.0]
XR = [-49.17, 169.88]
DOM_L = [px(19), px(1911)]
DOM_R = [px(2002), px(3842)]

def xax(rng, dom, anchor, lw, labels):
    return dict(domain=dom, anchor=anchor, range=rng, showgrid=False, zeroline=False,
                showline=True, linecolor=BLACK, linewidth=lw, mirror="ticks",
                ticks="inside", ticklen=21, tickwidth=lw, tickcolor=BLACK,
                tickmode="linear", tick0=0, dtick=50,
                minor=dict(ticks="inside", ticklen=11, tickwidth=lw, tickcolor=BLACK,
                           tick0=0, dtick=10, showgrid=False),
                showticklabels=labels,
                tickfont=dict(family=FONT, size=42, color=BLACK),
                ticklabelstandoff=8)

def yax(rng, dom, anchor, lw, dtick, tlen, minor=None):
    d = dict(domain=dom, anchor=anchor, range=rng, showgrid=False, zeroline=False,
             showline=True, linecolor=BLACK, linewidth=lw, mirror="ticks",
             ticks="inside", ticklen=tlen, tickwidth=lw, tickcolor=BLACK,
             tickmode="linear", tick0=0, dtick=dtick, showticklabels=False)
    if minor:
        d["minor"] = minor
    return d

fig.update_layout(
    width=W, height=H, autosize=False,
    margin=dict(l=0, r=0, t=0, b=0),
    paper_bgcolor="white", plot_bgcolor="rgba(0,0,0,0)",
    xaxis=xax(XL, DOM_L, "y", 2.5, False),
    yaxis=yax([-1.494, 3.50], [py(857), py(68)], "x", 2.5, 1, 24),
    xaxis2=xax(XL, DOM_L, "y2", 4.5, True),
    yaxis2=yax([-0.179, 13.0], [py(1595), py(857)], "x2", 4.5, 1, 20),
    xaxis3=xax(XR, DOM_R, "y3", 2.5, False),
    yaxis3=yax([-1.528, 3.993], [py(856), py(61)], "x3", 2.5, 1, 14),
    xaxis4=xax(XR, DOM_R, "y4", 4.5, True),
    yaxis4=yax([-0.493, 12.48], [py(1593), py(856)], "x4", 4.5, 5, 20,
               minor=dict(ticks="inside", ticklen=7, tickwidth=4.5, tickcolor=BLACK,
                          tick0=0, dtick=1, showgrid=False)),
    showlegend=False,
)

shapes = []
annos = []

def hline(x0, x1, y, color, w=5):
    shapes.append(dict(type="line", xref="paper", yref="paper",
                       x0=px(x0), x1=px(x1), y0=py(y), y1=py(y),
                       line=dict(color=color, width=w)))

def text(x, y, s, size, color=BLACK, xanchor="left", **kw):
    d = dict(xref="paper", yref="paper", x=px(x), y=py(y), text=s,
             showarrow=False, xanchor=xanchor, yanchor="middle",
             font=dict(family=FONT, size=size, color=color))
    d.update(kw)
    annos.append(d)

# titles
text(973, 32, TITLES[0], 49, xanchor="center")
text(2946, 30, TITLES[1], 49, xanchor="center")

# top legends
hline(112, 395, 175, MAG); text(420, 160, "Dense (13CO counterpart)", 52, MAG)
hline(106, 392, 255, ORANGE); text(416, 238, "Diffuse (HI counterpart)", 52, ORANGE)
hline(2086, 2363, 169, MAG); text(2385, 155, "Dense (13CO counterpart)", 52, MAG)
hline(2080, 2357, 250, ORANGE); text(2381, 231, "Diffuse (HI counterpart)", 52, ORANGE)

# labels
text(1266, 412, "CII", 58)
text(3287, 187, "CII", 58)
text(274, 736, "CII (residual)", 42)
text(2078, 728, "CII (residual)", 42)
text(756, 1214, "HI", 54)
text(2749, 1054, "HI", 54)

# bottom legends
hline(112, 267, 948, BLUE); hline(112, 267, 1036, MAG); hline(112, 267, 1124, GREEN)
hline(2083, 2240, 944, BLUE); hline(2083, 2240, 1032, MAG); hline(2083, 2240, 1120, GREEN)
text(315, 934, "12CO", 41, BLUE); text(315, 1022, "13CO", 41, MAG); text(315, 1110, "C18O", 41, GREEN)
text(2284, 930, "12CO", 41, BLUE); text(2284, 1018, "13CO", 41, MAG); text(2284, 1106, "C18O", 41, GREEN)

# x axis titles
xt = "V<sub>LSR</sub> (km s<sup>−1</sup>)"
text(982, 1688, xt, 42, xanchor="center")
text(2950, 1688, xt, 42, xanchor="center")

# "-50" label of the right column, clipped at the panel edge as in the original
text(1995, 1634, "−50", 42, xanchor="center")
text(2000, 1634, "&nbsp;", 10, xanchor="right", width=60, height=56,
     bgcolor="white", borderpad=0)

fig.update_layout(shapes=shapes, annotations=annos)
fig.write_html("out.html")
